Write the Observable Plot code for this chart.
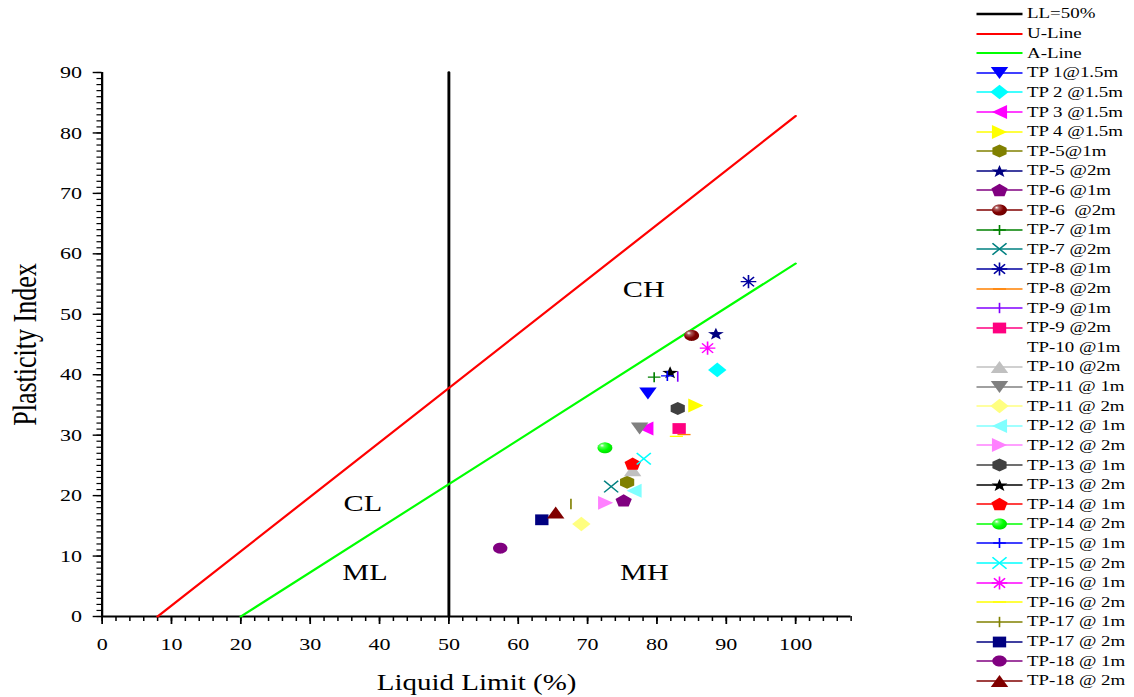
<!DOCTYPE html>
<html>
<head>
<meta charset="utf-8">
<script src="https://cdn.jsdelivr.net/npm/d3@7"></script>
<script src="https://cdn.jsdelivr.net/npm/@observablehq/plot@0.6"></script>
<style>
  html, body { margin: 0; padding: 0; background: #fff; overflow: hidden; }
  #wrap { position: relative; width: 900px; height: 697px; transform-origin: 0 0;
          font-family: "Liberation Serif", "Times New Roman", serif; color: #000; }
  #chart { position: absolute; left: 0; top: 0; }
  #legend { position: absolute; top: 4.2px; }
  .row { height: 19.62px; display: flex; align-items: center; font-size: 15px; white-space: pre; line-height: 1; }
  .row svg { flex: none; overflow: visible; }
</style>
</head>
<body>
<div id="wrap"><div id="chart"></div><div id="legend"></div></div>
<script>
// ---------- data ----------
const llLineX = [50, 50], llLineY = [0, 90];
const uLineX = [8, 100], uLineY = [0, 82.8];
const aLineX = [20, 100], aLineY = [0, 58.4];

const zoneNames = ["CH", "CL", "ML", "MH"];
const zoneLL = [78.1, 37.6, 37.9, 78.2];
const zonePI = [54.1, 18.7, 7.3, 7.3];

const seriesNames = [
  "TP 1@1.5m", "TP 2 @1.5m", "TP 3 @1.5m", "TP 4 @1.5m",
  "TP-5@1m", "TP-5 @2m", "TP-6 @1m", "TP-6  @2m",
  "TP-7 @1m", "TP-7 @2m", "TP-8 @1m", "TP-8 @2m",
  "TP-9 @1m", "TP-9 @2m", "TP-10 @1m", "TP-10 @2m",
  "TP-11 @ 1m", "TP-11 @ 2m", "TP-12 @ 1m", "TP-12 @ 2m",
  "TP-13 @ 1m", "TP-13 @ 2m", "TP-14 @ 1m", "TP-14 @ 2m",
  "TP-15 @ 1m", "TP-15 @ 2m", "TP-16 @ 1m", "TP-16 @ 2m",
  "TP-17 @ 1m", "TP-17 @ 2m", "TP-18 @ 1m", "TP-18 @ 2m"
];
const seriesLL = [
  78.7, 88.7, 78.4, 85.6,
  75.7, 88.5, 75.2, 85.0,
  79.6, 73.4, 93.2, 83.9,
  83.0, 83.2, null, 76.5,
  77.5, 69.1, 76.7, 72.6,
  83.0, 81.9, 76.5, 72.5,
  81.5, 78.1, 87.3, 82.8,
  67.6, 63.4, 57.4, 65.4
];
const seriesPI = [
  36.9, 40.8, 31.1, 34.9,
  22.2, 46.8, 19.2, 46.5,
  39.6, 21.5, 55.4, 30.1,
  39.7, 31.1, null, 24.2,
  31.1, 15.3, 20.8, 18.8,
  34.4, 40.4, 25.3, 27.9,
  39.8, 26.1, 44.4, 29.8,
  18.6, 16.0, 11.3, 17.2
];
const seriesColors = [
  "#0000FF", "#00FFFF", "#FF00FF", "#FFFF00",
  "#808000", "#000080", "#800080", "#800000",
  "#008000", "#008080", "#0000A0", "#FF8000",
  "#8000FF", "#FF0080", "#FFFFFF", "#C0C0C0",
  "#808080", "#FFFF80", "#80FFFF", "#FF80FF",
  "#404040", "#000000", "#FF0000", "#00FF00",
  "#0000FF", "#00FFFF", "#FF00FF", "#FFFF00",
  "#808000", "#000080", "#800080", "#800000"
];
const seriesSymbols = [
  "triDown", "diamond", "triLeft", "triRight",
  "hexagon", "star", "pentagon", "sphere",
  "plus", "times", "asterisk", "hbar",
  "vbar", "square", "hbar", "triUp",
  "triDown", "diamond", "triLeft", "triRight",
  "hexagon", "star", "pentagon", "sphere",
  "plus", "times", "asterisk", "hbar",
  "vbar", "square", "circle", "triUp"
];

const xMajorTicks = [0, 10, 20, 30, 40, 50, 60, 70, 80, 90, 100];
const xMinorTicks = d3.range(0, 109, 2);
const yMajorTicks = [0, 10, 20, 30, 40, 50, 60, 70, 80, 90];
const yMinorTicks = d3.range(0, 91, 1);

// ---------- layout (the reference is stretched horizontally) ----------
const K = 1.26;
document.getElementById("wrap").style.transform = `scaleX(${K})`;
const W = Math.round(975 / K);
const H = 697;
const mLeft = 101.5 / K;
const mRight = W - 850.5 / K;

// ---------- symbols ----------
function polygon(n, rot, r, sy = 1) {
  const pts = d3.range(n).map(i => {
    const a = rot + 2 * Math.PI * i / n;
    return [r * Math.cos(a), r * Math.sin(a) * sy];
  });
  const cx = (d3.min(pts, p => p[0]) + d3.max(pts, p => p[0])) / 2;
  const cy = (d3.min(pts, p => p[1]) + d3.max(pts, p => p[1])) / 2;
  return {draw(ctx) {
    pts.forEach(([x, y], i) => i ? ctx.lineTo(x - cx, y - cy) : ctx.moveTo(x - cx, y - cy));
    ctx.closePath();
  }};
}
function star(R, ri) {
  const pts = d3.range(10).map(i => {
    const a = -Math.PI / 2 + Math.PI * i / 5, r = i % 2 ? ri : R;
    return [r * Math.cos(a), r * Math.sin(a)];
  });
  const cy = (d3.min(pts, p => p[1]) + d3.max(pts, p => p[1])) / 2;
  return {draw(ctx) {
    pts.forEach(([x, y], i) => i ? ctx.lineTo(x, y - cy) : ctx.moveTo(x, y - cy));
    ctx.closePath();
  }};
}
function lines(segs) {
  return {draw(ctx) { for (const [a, b, c, d] of segs) { ctx.moveTo(a, b); ctx.lineTo(c, d); } }};
}
const SYMBOLS = {
  triDown: polygon(3, Math.PI / 2, 8),
  triUp: polygon(3, -Math.PI / 2, 8),
  triLeft: polygon(3, Math.PI, 8),
  triRight: polygon(3, 0, 8),
  diamond: polygon(4, 0, 7.3),
  square: {draw(ctx) { ctx.rect(-5.3, -5.4, 10.6, 10.8); }},
  hexagon: polygon(6, -Math.PI / 2, 6.5),
  pentagon: polygon(5, -Math.PI / 2, 6.8),
  star: star(6.6, 2.7),
  circle: polygon(40, 0, 5.7, 0.96),
  sphere: polygon(40, 0, 5.9, 0.93),
  plus: lines([[-5, 0, 5, 0], [0, -5, 0, 5]]),
  times: lines([[-5.6, -5.8, 5.6, 5.8], [-5.6, 5.8, 5.6, -5.8]]),
  asterisk: lines([[-6.2, 0, 6.2, 0], [0, -6.6, 0, 6.6], [-4.4, -4.7, 4.4, 4.7], [-4.4, 4.7, 4.4, -4.7]]),
  vbar: lines([[0, -5.2, 0, 5.2]]),
  hbar: lines([[-5.2, 0, 5.2, 0]])
};
const STROKED = new Set(["plus", "times", "asterisk", "vbar", "hbar"]);
const fillOf = i => {
  const kind = seriesSymbols[i];
  if (STROKED.has(kind)) return "none";
  if (kind === "sphere") return `url(#sph-${seriesColors[i].slice(1)})`;
  return seriesColors[i];
};
const strokeOf = i => STROKED.has(seriesSymbols[i]) ? seriesColors[i] : "none";

// ---------- chart ----------
const idx = d3.range(seriesNames.length);
const pointMarks = idx.map(i => Plot.dot(seriesLL[i] == null ? [] : [i], {
  x: j => seriesLL[j], y: j => seriesPI[j],
  symbol: SYMBOLS[seriesSymbols[i]], r: 5,
  fill: fillOf(i), stroke: strokeOf(i), strokeWidth: 1.3
}));

const chart = Plot.plot({
  width: W, height: H,
  marginLeft: mLeft, marginRight: mRight, marginTop: 72, marginBottom: 81,
  style: {fontFamily: "'Liberation Serif', 'Times New Roman', serif", fontSize: "17.5px", color: "#000", background: "transparent", overflow: "visible"},
  x: {domain: [0, 108]},
  y: {domain: [0, 90]},
  marks: [
    Plot.axisX({ticks: xMinorTicks, tickSize: 5, tickFormat: () => "", label: null, strokeWidth: 1.2}),
    Plot.axisX({ticks: xMajorTicks, tickSize: 8, tickPadding: 13, fontSize: 17.5, label: null, strokeWidth: 1.4}),
    Plot.axisY({ticks: yMinorTicks, tickSize: 4, tickFormat: () => "", label: null, strokeWidth: 1.2}),
    Plot.axisY({ticks: yMajorTicks, tickSize: 7, tickPadding: 9, fontSize: 17.5, label: null, strokeWidth: 1.4}),
    Plot.ruleX([0], {stroke: "#000", strokeWidth: 1.8}),
    Plot.ruleY([0], {stroke: "#000", strokeWidth: 2}),
    Plot.line(d3.range(2), {x: i => llLineX[i], y: i => llLineY[i], stroke: "#000", strokeWidth: 2.3}),
    Plot.line(d3.range(2), {x: i => uLineX[i], y: i => uLineY[i], stroke: "#FF0000", strokeWidth: 2}),
    Plot.line(d3.range(2), {x: i => aLineX[i], y: i => aLineY[i], stroke: "#00FF00", strokeWidth: 2}),
    Plot.text(d3.range(zoneNames.length), {x: i => zoneLL[i], y: i => zonePI[i], text: i => zoneNames[i], fontSize: 24, fill: "#000"}),
    Plot.text(["Liquid Limit (%)"], {frameAnchor: "bottom", dy: 66, textAnchor: "middle", lineAnchor: "middle", fontSize: 23, fill: "#000"}),
    Plot.text(["Plasticity Index"], {frameAnchor: "left", dx: -(mLeft - 20), rotate: -90, textAnchor: "middle", lineAnchor: "middle", fontSize: 26, fill: "#000"}),
    ...pointMarks
  ]
});

// sphere gradients
const defs = d3.select(chart).insert("defs", ":first-child");
for (const c of new Set(idx.filter(i => seriesSymbols[i] === "sphere").map(i => seriesColors[i]))) {
  const g = defs.append("radialGradient").attr("id", `sph-${c.slice(1)}`)
    .attr("cx", "0.38").attr("cy", "0.35").attr("r", "0.7").attr("fx", "0.3").attr("fy", "0.28");
  g.append("stop").attr("offset", "0%").attr("stop-color", "#ffffff");
  g.append("stop").attr("offset", "22%").attr("stop-color", d3.interpolateRgb(c, "#fff")(0.35));
  g.append("stop").attr("offset", "60%").attr("stop-color", c);
  g.append("stop").attr("offset", "100%").attr("stop-color", d3.interpolateRgb(c, "#000")(0.15));
}
document.getElementById("chart").appendChild(chart);

// ---------- legend ----------
const legend = d3.select("#legend").style("left", `${976 / K}px`);
const swW = 51 / K, lineLen = 46 / K, symX = 23 / K;
const entries = [
  {name: "LL=50%", color: "#000", width: 2.3, sym: null},
  {name: "U-Line", color: "#FF0000", width: 2, sym: null},
  {name: "A-Line", color: "#00FF00", width: 2, sym: null},
  ...idx.map(i => ({name: seriesNames[i], color: seriesColors[i], width: 1.3, sym: seriesSymbols[i], i}))
];
for (const e of entries) {
  const row = legend.append("div").attr("class", "row");
  const svg = row.append("svg").attr("width", swW).attr("height", 20);
  svg.append("line").attr("x1", 0).attr("x2", lineLen).attr("y1", 10).attr("y2", 10)
    .attr("stroke", e.color).attr("stroke-width", e.width);
  if (e.sym) {
    svg.append("path").attr("d", d3.symbol(SYMBOLS[e.sym], 1)())
      .attr("transform", `translate(${symX},10)`)
      .attr("fill", fillOf(e.i)).attr("stroke", strokeOf(e.i)).attr("stroke-width", 1.3);
  }
  row.append("span").text(e.name);
}
</script>
</body>
</html>
